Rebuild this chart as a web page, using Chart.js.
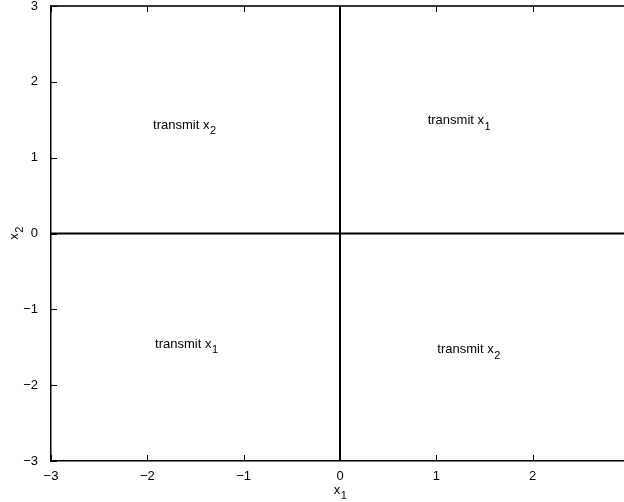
<!DOCTYPE html>
<html>
<head>
<meta charset="utf-8">
<script src="https://cdn.jsdelivr.net/npm/chart.js@4/dist/chart.umd.min.js"></script>
<style>
  html, body { margin: 0; padding: 0; background: #fff; }
  #wrap { width: 624px; height: 502px; }
</style>
</head>
<body>
<div id="wrap"><canvas id="myChart"></canvas></div>
<script>
// axis limits and ticks
const xTicks = [-3, -2, -1, 0, 1, 2];
const yTicks = [-3, -2, -1, 0, 1, 2, 3];
const xMin = -3, xMax = 2.948;
const yMin = -3, yMax = 3;

// the two decision boundaries
const vLineX = [0, 0];
const vLineY = [-3, 3];
const hLineX = [-3, 2.948];
const hLineY = [0, 0];

// region labels: text, subscript, position
const labelText = ['transmit x', 'transmit x', 'transmit x', 'transmit x'];
const labelSub = ['2', '1', '1', '2'];
const labelX = [-1.94, 0.91, -1.92, 1.01];
const labelY = [1.43, 1.49, -1.46, -1.53];

const FONT = '"Liberation Sans", Arial, Helvetica, sans-serif';

function toPts(xs, ys) {
  return xs.map((x, i) => ({ x: x, y: ys[i] }));
}

// draw text with a subscript at given pixel
function subText(ctx, txt, sub, px, py, align) {
  ctx.font = '13px ' + FONT;
  const w1 = ctx.measureText(txt).width;
  ctx.font = '11px ' + FONT;
  const w2 = ctx.measureText(sub).width;
  let x0 = px;
  if (align === 'center') x0 = px - (w1 + w2) / 2;
  ctx.textAlign = 'left';
  ctx.textBaseline = 'middle';
  ctx.fillStyle = '#000';
  ctx.font = '13px ' + FONT;
  ctx.fillText(txt, x0, py);
  ctx.font = '11px ' + FONT;
  ctx.fillText(sub, x0 + w1 + 0.5, py + 6);
}

const extras = {
  id: 'extras',
  afterDatasetsDraw(chart) {
    const ctx = chart.ctx;
    const xs = chart.scales.x, ys = chart.scales.y;
    const a = chart.chartArea;
    ctx.save();
    // top box edge
    ctx.strokeStyle = '#333';
    ctx.lineWidth = 2;
    ctx.beginPath();
    ctx.moveTo(a.left, a.top);
    ctx.lineTo(a.right, a.top);
    ctx.stroke();
    // inward tick marks
    ctx.strokeStyle = '#000';
    ctx.lineWidth = 1;
    ctx.beginPath();
    xTicks.forEach(v => {
      const p = Math.round(xs.getPixelForValue(v)) + 0.5;
      ctx.moveTo(p, a.bottom); ctx.lineTo(p, a.bottom - 6);
      ctx.moveTo(p, a.top); ctx.lineTo(p, a.top + 6);
    });
    yTicks.forEach(v => {
      const p = Math.round(ys.getPixelForValue(v)) + 0.5;
      ctx.moveTo(a.left, p); ctx.lineTo(a.left + 6, p);
    });
    ctx.stroke();
    // region labels
    labelText.forEach((t, i) => {
      subText(ctx, t, labelSub[i], xs.getPixelForValue(labelX[i]), ys.getPixelForValue(labelY[i]), 'left');
    });
    // axis titles
    subText(ctx, 'x', '1', (xs.getPixelForValue(0)), 490, 'center');
    ctx.translate(14, ys.getPixelForValue(0));
    ctx.rotate(-Math.PI / 2);
    subText(ctx, 'x', '2', 0, 0, 'center');
    ctx.restore();
  }
};

const ctx = document.getElementById('myChart').getContext('2d');
const chart = new Chart(ctx, {
  type: 'scatter',
  data: {
    datasets: [
      { data: toPts(vLineX, vLineY), showLine: true, borderColor: '#000', borderWidth: 2, pointRadius: 0 },
      { data: toPts(hLineX, hLineY), showLine: true, borderColor: '#000', borderWidth: 2, pointRadius: 0 }
    ]
  },
  options: {
    responsive: true,
    maintainAspectRatio: false,
    animation: false,
    layout: { padding: 0 },
    plugins: { legend: { display: false }, tooltip: { enabled: false } },
    scales: {
      x: {
        type: 'linear', min: xMin, max: xMax,
        afterBuildTicks: s => { s.ticks = xTicks.map(v => ({ value: v })); },
        afterFit: s => { s.height = 41; s.paddingLeft = 0; s.paddingRight = 0; },
        grid: { display: false },
        border: { display: true, color: '#000', width: 1.5 },
        ticks: {
          padding: 0, color: '#000', maxRotation: 0,
          font: { family: FONT, size: 13 },
          callback: v => String(v).replace('-', '\u2212')
        }
      },
      y: {
        type: 'linear', min: yMin, max: yMax,
        afterBuildTicks: s => { s.ticks = yTicks.map(v => ({ value: v })); },
        afterFit: s => { s.width = 51; s.paddingTop = 6; s.paddingBottom = 0; },
        grid: { display: false },
        border: { display: true, color: '#000', width: 1.5 },
        ticks: {
          padding: 5, color: '#000',
          font: { family: FONT, size: 13 },
          callback: v => String(v).replace('-', '\u2212')
        }
      }
    }
  },
  plugins: [extras]
});
</script>
</body>
</html>
